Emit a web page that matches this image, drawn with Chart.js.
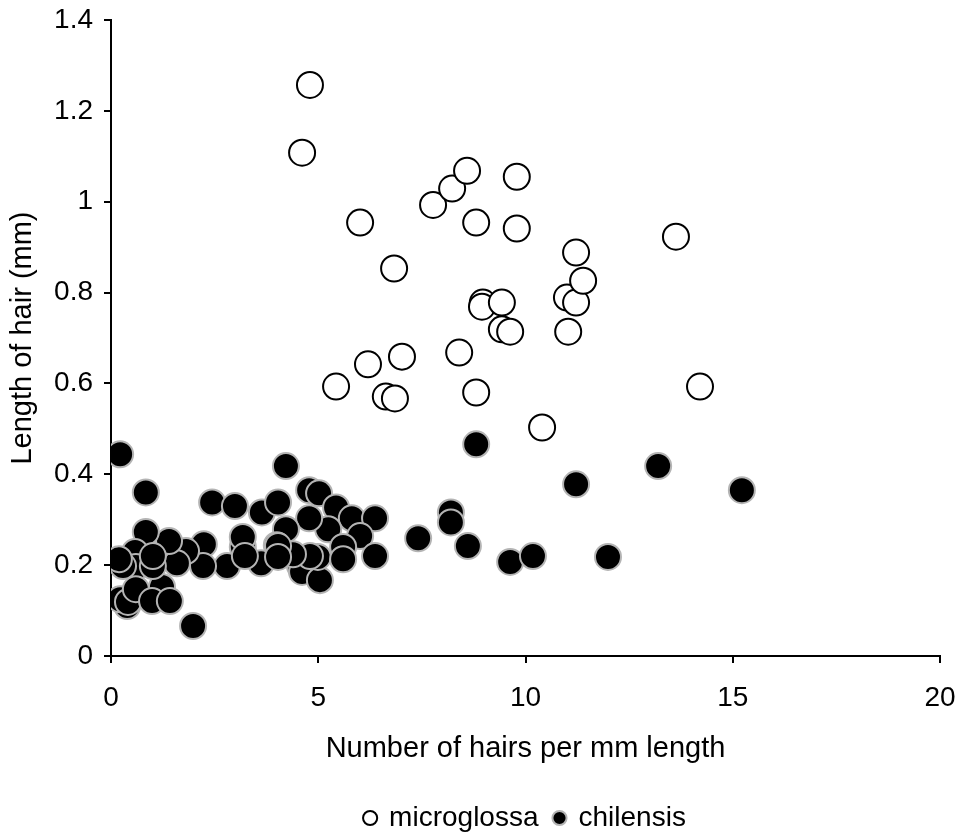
<!DOCTYPE html>
<html>
<head>
<meta charset="utf-8">
<script src="https://cdn.jsdelivr.net/npm/chart.js@4"></script>
<style>
  html, body { margin: 0; padding: 0; background: #fff; }
  #wrap { width: 961px; height: 837px; }
</style>
</head>
<body>
<div id="wrap"><canvas id="chart" width="961" height="837"></canvas></div>
<script>
// microglossa (open circles)
let micro_x = [4.80, 4.61, 6.01, 6.83, 7.77, 8.23, 8.59, 8.81, 9.79, 9.79,
               8.97, 8.95, 9.43, 9.43, 9.63, 11.00, 11.22, 11.39, 11.22, 11.03,
               13.63, 14.21, 5.43, 6.20, 7.02, 6.63, 6.85, 8.40, 8.81, 10.40]
let micro_y = [1.257, 1.108, 0.954, 0.853, 0.993, 1.029, 1.068, 0.954, 1.055, 0.941,
               0.778, 0.769, 0.778, 0.719, 0.714, 0.789, 0.778, 0.826, 0.888, 0.714,
               0.923, 0.593, 0.593, 0.642, 0.659, 0.571, 0.567, 0.668, 0.580, 0.503]

// chilensis (filled circles)
let chil_x = [0.22, 0.84, 4.22, 1.98, 2.44, 2.99, 3.64, 4.03, 4.78, 5.02,
              5.43, 5.81, 6.37, 6.01, 5.24, 4.78, 4.22, 4.00, 3.18, 3.18,
              3.62, 2.80, 2.24, 2.22, 1.81, 1.59, 1.40, 0.84, 0.58, 0.60,
              0.29, 0.19, 0.39, 0.22, 0.41, 0.60, 1.23, 0.99, 1.42, 1.01,
              1.01, 4.56, 4.61, 5.04, 4.99, 5.60, 5.60, 6.37, 4.80, 4.39,
              4.03, 4.03, 3.23, 8.81, 11.22, 13.20, 15.22, 8.20, 8.20, 7.41,
              8.61, 9.63, 10.18, 11.99]
let chil_y = [0.444, 0.360, 0.418, 0.066, 0.338, 0.330, 0.316, 0.338, 0.365, 0.358,
              0.327, 0.303, 0.303, 0.264, 0.279, 0.303, 0.279, 0.244, 0.240, 0.262,
              0.204, 0.198, 0.246, 0.198, 0.231, 0.204, 0.253, 0.273, 0.229, 0.196,
              0.198, 0.213, 0.110, 0.125, 0.119, 0.147, 0.152, 0.121, 0.121, 0.198,
              0.220, 0.198, 0.185, 0.167, 0.218, 0.240, 0.213, 0.220, 0.220, 0.224,
              0.242, 0.218, 0.220, 0.466, 0.378, 0.418, 0.365, 0.316, 0.294, 0.259,
              0.242, 0.207, 0.220, 0.218]

let x_ticks = [0, 5, 10, 15, 20]

function to_points(xs, ys) {
    return xs.map((x, i) => ({ x: x, y: ys[i] }))
}

let font_name = "'Liberation Sans', Arial, sans-serif"

var ctx = document.getElementById('chart').getContext('2d')
var chart = new Chart(ctx, {
    type: 'scatter',
    data: {
        datasets: [{
            label: 'microglossa',
            data: to_points(micro_x, micro_y),
            backgroundColor: '#ffffff',
            borderColor: '#000000',
            borderWidth: 2,
            pointRadius: 13,
            order: 1
        }, {
            label: 'chilensis',
            data: to_points(chil_x, chil_y),
            backgroundColor: '#000000',
            borderColor: '#b4b4b4',
            borderWidth: 2,
            pointRadius: 13,
            order: 0
        }]
    },
    options: {
        responsive: false,
        animation: false,
        layout: { padding: { left: 0, right: 21, top: 20, bottom: -5 } },
        plugins: {
            tooltip: { enabled: false },
            legend: {
                position: 'bottom',
                fullSize: false,
                labels: {
                    usePointStyle: true,
                    pointStyle: 'circle',
                    boxWidth: 10,
                    boxHeight: 10,
                    padding: 16,
                    color: '#000',
                    font: { family: font_name, size: 28 },
                    sort: (a, b) => a.datasetIndex - b.datasetIndex
                }
            }
        },
        scales: {
            x: {
                type: 'linear',
                min: 0,
                max: 20,
                afterBuildTicks: s => { s.ticks = x_ticks.map(v => ({ value: v })) },
                afterFit: s => {
                    s.height = 132
                    s.paddingLeft = 0
                    s.paddingRight = 0
                },
                border: { display: true, color: '#000', width: 2 },
                grid: { display: true, drawOnChartArea: false, drawTicks: true, tickLength: 7, color: '#000', lineWidth: 2 },
                ticks: {
                    color: '#000',
                    padding: 18,
                    font: { family: font_name, size: 28 },
                    maxRotation: 0
                },
                title: {
                    display: true,
                    text: 'Number of hairs per mm length',
                    color: '#000',
                    font: { family: font_name, size: 29 },
                    padding: { top: 0, bottom: 22 }
                }
            },
            y: {
                min: 0,
                max: 1.4,
                afterFit: s => {
                    s.width = 111
                    s.paddingTop = 0
                    s.paddingBottom = 0
                },
                border: { display: true, color: '#000', width: 2 },
                grid: { display: true, drawOnChartArea: false, drawTicks: true, tickLength: 7, color: '#000', lineWidth: 2 },
                ticks: {
                    stepSize: 0.2,
                    color: '#000',
                    padding: 11,
                    font: { family: font_name, size: 28 },
                    callback: v => String(Math.round(v * 10) / 10)
                },
                title: {
                    display: true,
                    text: 'Length of hair (mm)',
                    color: '#000',
                    font: { family: font_name, size: 29 },
                    padding: { top: 6, bottom: 0 }
                }
            }
        }
    }
})
</script>
</body>
</html>
